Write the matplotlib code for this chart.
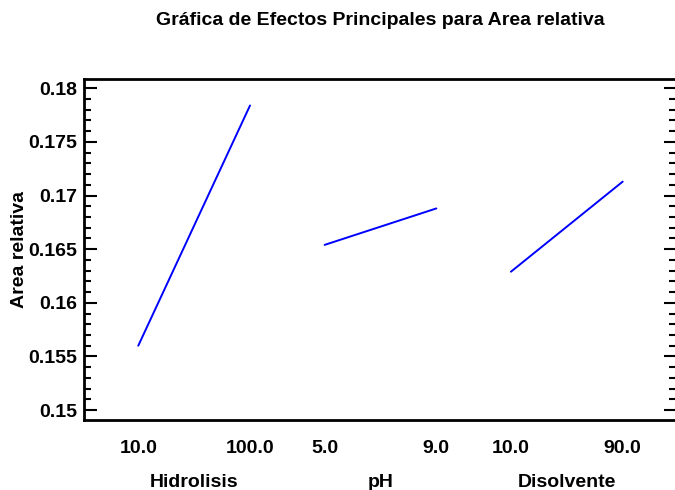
import numpy as np
import matplotlib
matplotlib.use("Agg")
import matplotlib.pyplot as plt
from matplotlib.ticker import MultipleLocator

# data
factors = ["Hidrolisis", "pH", "Disolvente"]
level_labels = [["10.0", "100.0"], ["5.0", "9.0"], ["10.0", "90.0"]]
low_means = [0.1560, 0.1654, 0.1629]
high_means = [0.1784, 0.1688, 0.1713]
ytick_labels = ["0.15", "0.155", "0.16", "0.165", "0.17", "0.175", "0.18"]

plt.rcParams['font.family'] = ['Liberation Sans', 'DejaVu Sans']
plt.rcParams['font.weight'] = 'bold'

fig = plt.figure(figsize=(6.75, 4.9), dpi=100)
ax = fig.add_axes([84 / 675, 1 - 420 / 490, 592.5 / 675, 341 / 490])

# layout of the three segments (axes fraction)
seg_start, seg_step, seg_width = 0.0916, 0.3145, 0.1886

for i in range(len(factors)):
    x0 = seg_start + i * seg_step
    x1 = x0 + seg_width
    ax.plot([x0, x1], [low_means[i], high_means[i]],
            color="#0000ff", lw=1.4, solid_capstyle="round")
    ax.text(x0, -0.0968, level_labels[i][0], transform=ax.transAxes,
            ha="center", va="baseline", fontsize=14, fontweight="bold")
    ax.text(x1, -0.0968, level_labels[i][1], transform=ax.transAxes,
            ha="center", va="baseline", fontsize=14, fontweight="bold")
    ax.text((x0 + x1) / 2, -0.1965, factors[i], transform=ax.transAxes,
            ha="center", va="baseline", fontsize=14, fontweight="bold")

ax.set_xlim(0, 1)
ax.set_ylim(0.14907, 0.18087)
ax.set_xticks([])
ax.set_yticks([float(t) for t in ytick_labels])
ax.set_yticklabels(ytick_labels, fontsize=14, fontweight="bold")
ax.yaxis.set_minor_locator(MultipleLocator(0.001))
ax.tick_params(axis="y", which="both", direction="in", left=True, right=True,
               width=1.5, pad=5)
ax.tick_params(axis="y", which="major", length=9)
ax.tick_params(axis="y", which="minor", length=5)
for s in ["left", "top", "bottom", "right"]:
    ax.spines[s].set_linewidth(2)
ax.spines["right"].set_visible(False)

ax.set_ylabel("Area relativa", fontsize=14, fontweight="bold", labelpad=0)
fig.text(380 / 675, 1 - 25 / 490, "Gráfica de Efectos Principales para Area relativa",
         ha="center", va="baseline", fontsize=14, fontweight="bold")

fig.savefig("out.png", dpi=100)
